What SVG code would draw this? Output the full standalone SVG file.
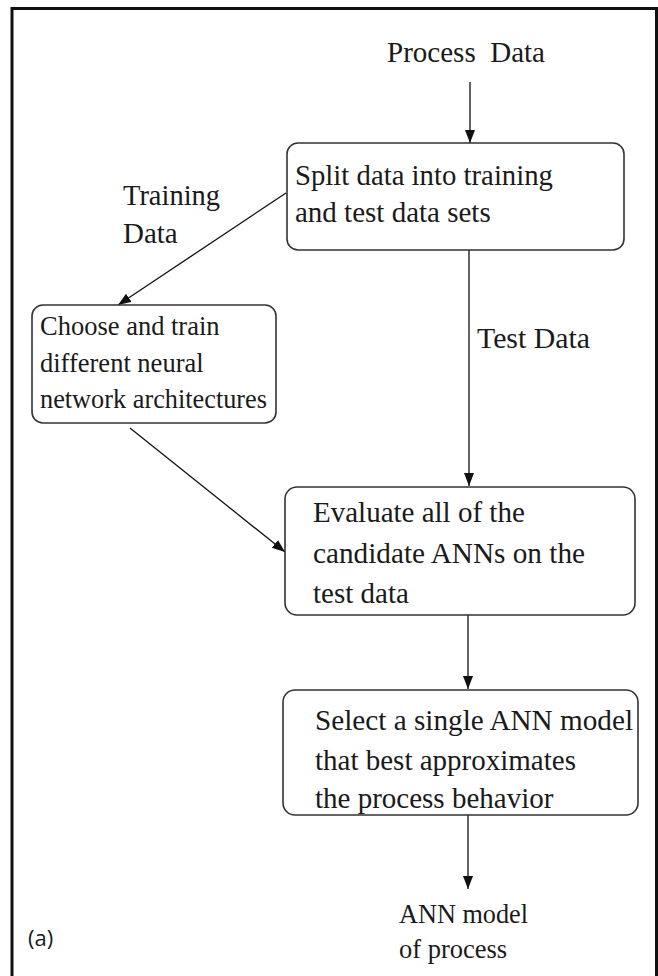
<svg xmlns="http://www.w3.org/2000/svg" width="658" height="976" viewBox="0 0 658 976">
  <style>
    .frame { fill: none; stroke: #111; stroke-width: 3; }
    .box { fill: #fff; stroke: #333; stroke-width: 1.6; }
    .lbl { font-family: "Liberation Serif", "Times New Roman", serif; fill: #1a1a1a; }
    .big { font-size: 29px; }
    .mid { font-size: 26.5px; }
    .tag { font-family: "Open Sans", "Liberation Sans", sans-serif; font-size: 22px; fill: #1a1a1a; }
    .link { fill: none; stroke: #111; stroke-width: 1.3; }
  </style>
  <defs>
    <marker id="arrow" markerUnits="userSpaceOnUse" markerWidth="14" markerHeight="12" refX="13" refY="5" orient="auto">
      <path d="M0,0 L13,5 L0,10 Z" fill="#111"/>
    </marker>
  </defs>

  <rect width="658" height="976" fill="#fff"/>

  <!-- outer frame (open at the bottom) -->
  <path class="frame" d="M12,976 V8.5 H656.5 V976"/>

  <!-- connectors -->
  <g id="connectors">
    <line class="link" x1="470" y1="82" x2="470" y2="143" marker-end="url(#arrow)"/>
    <line class="link" x1="286" y1="193" x2="118" y2="305" marker-end="url(#arrow)"/>
    <line class="link" x1="469" y1="250" x2="469" y2="486" marker-end="url(#arrow)"/>
    <line class="link" x1="130" y1="428" x2="285" y2="552" marker-end="url(#arrow)"/>
    <line class="link" x1="468" y1="615" x2="468" y2="689" marker-end="url(#arrow)"/>
    <line class="link" x1="468" y1="815" x2="468" y2="889" marker-end="url(#arrow)"/>
  </g>

  <!-- input label -->
  <g id="process-data">
    <text class="lbl big" x="387" y="62" font-size="31" textLength="158" lengthAdjust="spacingAndGlyphs" xml:space="preserve">Process  Data</text>
  </g>

  <g id="split">
    <rect class="box" x="287" y="143" width="337" height="107" rx="11"/>
    <text class="lbl big" x="295" y="185" textLength="258" lengthAdjust="spacingAndGlyphs">Split data into training</text>
    <text class="lbl big" x="295" y="222">and test data sets</text>
  </g>

  <g id="training-data-label">
    <text class="lbl big" x="123" y="205" font-size="28.5" textLength="97" lengthAdjust="spacingAndGlyphs">Training</text>
    <text class="lbl big" x="123" y="243" font-size="28.5">Data</text>
  </g>

  <g id="choose-train">
    <rect class="box" x="32" y="305" width="244" height="118" rx="11"/>
    <text class="lbl mid" x="40" y="335">Choose and train</text>
    <text class="lbl mid" x="40" y="372">different neural</text>
    <text class="lbl mid" x="40" y="408" textLength="227" lengthAdjust="spacingAndGlyphs">network architectures</text>
  </g>

  <g id="test-data-label">
    <text class="lbl big" x="477" y="348" textLength="113" lengthAdjust="spacingAndGlyphs">Test Data</text>
  </g>

  <g id="evaluate">
    <rect class="box" x="285" y="487" width="350" height="128" rx="12"/>
    <text class="lbl big" x="313" y="522">Evaluate all of the</text>
    <text class="lbl big" x="313" y="563" textLength="272" lengthAdjust="spacingAndGlyphs">candidate ANNs on the</text>
    <text class="lbl big" x="313" y="603">test data</text>
  </g>

  <g id="select">
    <rect class="box" x="283" y="690" width="355" height="125" rx="12"/>
    <text class="lbl big" x="315" y="730" textLength="318" lengthAdjust="spacingAndGlyphs">Select a single ANN model</text>
    <text class="lbl big" x="315" y="770">that best approximates</text>
    <text class="lbl big" x="315" y="808">the process behavior</text>
  </g>

  <g id="ann-model">
    <text class="lbl mid" x="399" y="923" font-size="26" textLength="129" lengthAdjust="spacingAndGlyphs">ANN model</text>
    <text class="lbl mid" x="399" y="958" font-size="26">of process</text>
  </g>

  <g id="panel-tag">
    <text class="tag" x="28" y="946">(a)</text>
  </g>
</svg>
